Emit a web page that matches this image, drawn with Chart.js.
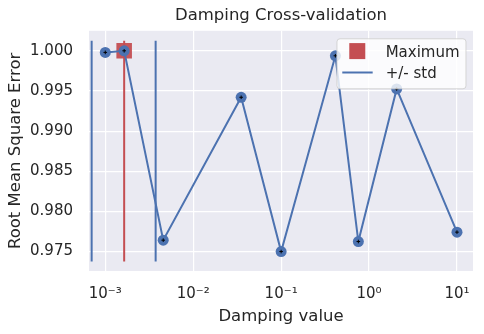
<!DOCTYPE html>
<html>
<head>
<meta charset="utf-8">
<title>Damping Cross-validation</title>
<style>
body {
	margin: 0;
	padding: 0;
	background-color: #fff;
}
</style>
<script src="https://cdn.jsdelivr.net/npm/chart.js@4.4.0/dist/chart.umd.min.js"></script>
</head>
<body>
<canvas id="cv" width="484" height="334"></canvas>
<script>
// values
var dampingValues = [0.001, 0.00164, 0.00456, 0.0351, 0.1, 0.414, 0.755, 2.06, 10];
var rmseValues = [0.9998, 1.0000, 0.97642, 0.99421, 0.97500, 0.99938, 0.97625, 0.99525, 0.97742];
var bestDamping = 0.00164;
var bestRmse = 1.0000;
var stdLow = 0.0007;
var stdHigh = 0.00374;
var vlineBottom = 0.97375;
var vlineTop = 1.00125;

var xTicks = [1e-3, 1e-2, 1e-1, 1, 10];
var xTickLabels = ['10\u207B\u00B3', '10\u207B\u00B2', '10\u207B\u00B9', '10\u2070', '10\u00B9'];
var yTicks = [0.975, 0.980, 0.985, 0.990, 0.995, 1.000];
var xMin = 6.53e-4, xMax = 15.2;
var yMin = 0.97258, yMax = 1.00249;

var blue = '#4c72b0';
var red = '#c44e52';
var textColor = '#262626';

Chart.defaults.font.family = 'DejaVu Sans';
Chart.defaults.color = textColor;

var points = dampingValues.map(function (d, i) { return {x: d, y: rmseValues[i]}; });
function vline(x) {
	return [{x: x, y: vlineBottom}, {x: x, y: vlineTop}];
}

// grey plot background like seaborn darkgrid, title centred over the axes
var bgPlugin = {
	id: 'plotBg',
	afterLayout: function (chart) {
		if (chart.titleBlock) {
			chart.titleBlock.left = chart.chartArea.left;
			chart.titleBlock.right = chart.chartArea.right;
		}
	},
	beforeDraw: function (chart) {
		var a = chart.chartArea, ctx = chart.ctx;
		ctx.save();
		ctx.fillStyle = '#eaeaf2';
		ctx.fillRect(a.left, a.top, a.right - a.left, a.bottom - a.top);
		ctx.restore();
	}
};

// legend box drawn inside the axes, top right
var legendPlugin = {
	id: 'boxLegend',
	afterDraw: function (chart) {
		var ctx = chart.ctx, a = chart.chartArea;
		var w = 129, h = 50;
		var x = a.right - 7 - w, y = a.top + 8;
		ctx.save();
		ctx.beginPath();
		ctx.roundRect(x, y, w, h, 3);
		ctx.fillStyle = 'rgba(255,255,255,0.8)';
		ctx.fill();
		ctx.strokeStyle = 'rgba(204,204,204,0.8)';
		ctx.lineWidth = 1;
		ctx.stroke();

		ctx.fillStyle = red;
		ctx.fillRect(x + 12.3, y + 4.3, 16, 16);
		ctx.strokeStyle = blue;
		ctx.lineWidth = 2;
		ctx.beginPath();
		ctx.moveTo(x + 5.3, y + 33.7);
		ctx.lineTo(x + 35.7, y + 33.7);
		ctx.stroke();

		ctx.fillStyle = textColor;
		ctx.font = '15px "DejaVu Sans"';
		ctx.textBaseline = 'alphabetic';
		ctx.fillText('Maximum', x + 48.7, y + 17.7);
		ctx.fillText('+/- std', x + 48.7, y + 39.3);
		ctx.restore();
	}
};

new Chart(document.getElementById('cv'), {
	type: 'scatter',
	data: {
		datasets: [
			{
				label: 'center',
				data: points,
				pointStyle: 'cross',
				pointRadius: 1.8,
				borderColor: '#000',
				borderWidth: 1,
				backgroundColor: '#000',
				order: 1
			},
			{
				label: 'markers',
				data: points,
				pointRadius: 5.5,
				pointBorderWidth: 0,
				backgroundColor: blue,
				borderColor: blue,
				order: 2
			},
			{
				label: 'rmse',
				data: points,
				showLine: true,
				borderColor: blue,
				borderWidth: 2,
				pointRadius: 0,
				order: 3
			},
			{
				label: '+/- std',
				data: vline(stdLow),
				showLine: true,
				borderColor: blue,
				borderWidth: 2,
				pointRadius: 0,
				order: 4
			},
			{
				label: '+/- std high',
				data: vline(stdHigh),
				showLine: true,
				borderColor: blue,
				borderWidth: 2,
				pointRadius: 0,
				order: 4
			},
			{
				label: 'best',
				data: vline(bestDamping),
				showLine: true,
				borderColor: red,
				borderWidth: 2,
				pointRadius: 0,
				order: 4
			},
			{
				label: 'Maximum',
				data: [{x: bestDamping, y: bestRmse}],
				pointStyle: 'rect',
				pointRadius: 11,
				pointBorderWidth: 0,
				backgroundColor: 'rgba(196,78,82,0.95)',
				order: 5
			}
		]
	},
	options: {
		responsive: false,
		animation: false,
		devicePixelRatio: 1,
		layout: {
			padding: {left: 0, right: 11, top: 0, bottom: 0}
		},
		plugins: {
			legend: {display: false},
			tooltip: {enabled: false},
			title: {
				display: true,
				text: 'Damping Cross-validation',
				color: textColor,
				font: {size: 16.5, weight: 'normal'},
				padding: {top: 6, bottom: 5}
			}
		},
		scales: {
			x: {
				type: 'logarithmic',
				min: xMin,
				max: xMax,
				afterBuildTicks: function (s) {
					s.ticks = xTicks.map(function (v) { return {value: v}; });
				},
				afterFit: function (s) { s.height = 63; },
				ticks: {
					autoSkip: false,
					maxRotation: 0,
					padding: 14,
					color: textColor,
					font: {size: 15},
					callback: function (v, i) { return xTickLabels[i]; }
				},
				grid: {color: '#fff', lineWidth: 1.2, drawTicks: false},
				border: {display: false},
				title: {
					display: true,
					text: 'Damping value',
					color: textColor,
					font: {size: 16.5},
					padding: {bottom: 7}
				}
			},
			y: {
				min: yMin,
				max: yMax,
				afterBuildTicks: function (s) {
					s.ticks = yTicks.map(function (v) { return {value: v}; });
				},
				afterFit: function (s) { s.width = 89; },
				ticks: {
					padding: 16,
					color: textColor,
					font: {size: 15},
					callback: function (v) { return v.toFixed(3); }
				},
				grid: {color: '#fff', lineWidth: 1.2, drawTicks: false},
				border: {display: false},
				title: {
					display: true,
					text: 'Root Mean Square Error',
					color: textColor,
					font: {size: 16.5},
					padding: {top: 6}
				}
			}
		}
	},
	plugins: [bgPlugin, legendPlugin]
});
</script>
</body>
</html>
